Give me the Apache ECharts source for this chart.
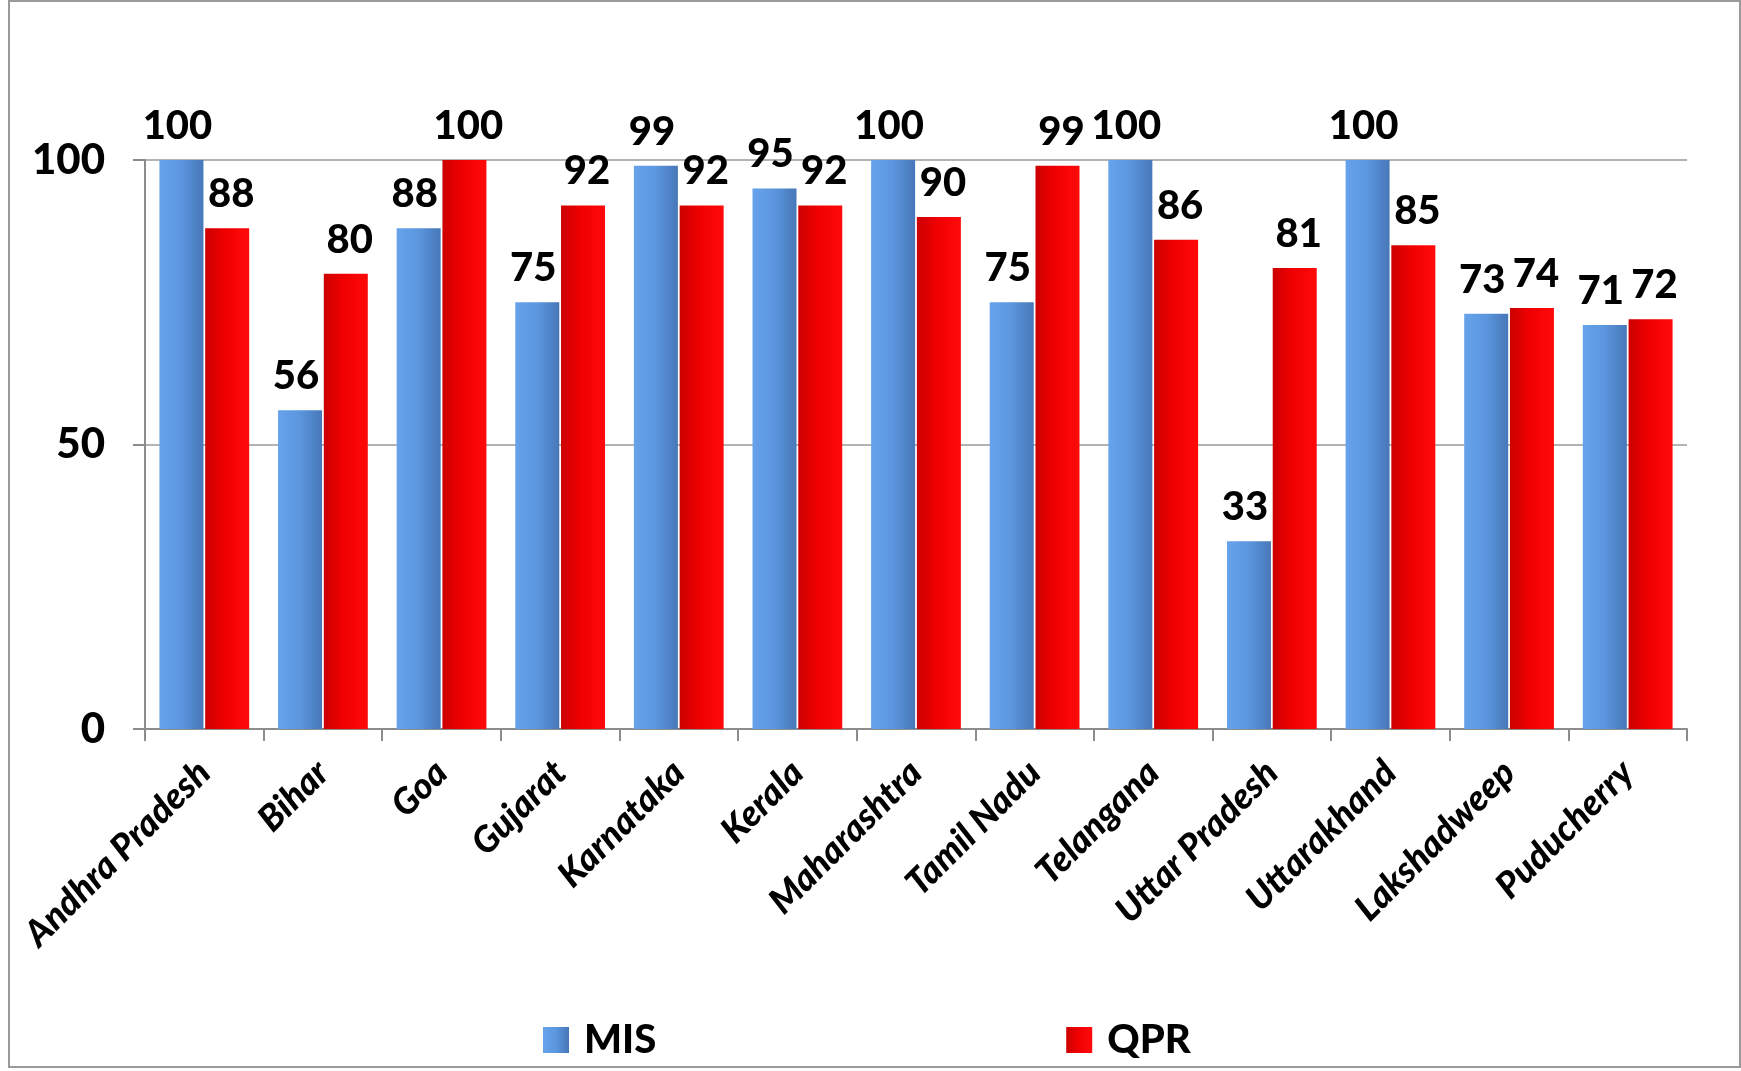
<!DOCTYPE html>
<html>
<head>
<meta charset="utf-8">
<script src="https://cdn.jsdelivr.net/npm/echarts@6/dist/echarts.min.js"></script>
<style>
  html, body { margin: 0; padding: 0; background: #fff; }
  #chart { width: 1741px; height: 1071px; }
</style>
</head>
<body>
<div id="chart"></div>
<script>
const states = ['Andhra Pradesh', 'Bihar', 'Goa', 'Gujarat', 'Karnataka', 'Kerala',
  'Maharashtra', 'Tamil Nadu', 'Telangana', 'Uttar Pradesh', 'Uttarakhand',
  'Lakshadweep', 'Puducherry'];
const misValues = [100, 56, 88, 75, 99, 95, 100, 75, 100, 33, 100, 73, 71];
const qprValues = [88, 80, 100, 92, 92, 92, 90, 99, 86, 81, 85, 74, 72];
const yTicks = [0, 50, 100];

const chart = echarts.init(document.getElementById('chart'));

const blueFill = new echarts.graphic.LinearGradient(0, 0, 1, 0, [
  { offset: 0, color: '#66a3ea' },
  { offset: 0.5, color: '#5b96de' },
  { offset: 1, color: '#4777b8' }
]);
const redFill = new echarts.graphic.LinearGradient(0, 0, 1, 0, [
  { offset: 0, color: '#cc0000' },
  { offset: 0.45, color: '#f00000' },
  { offset: 1, color: '#ff0a0a' }
]);

function barLabel(dx) {
  return {
    show: true,
    position: 'top',
    distance: 14,
    offset: [dx, 0],
    color: '#000',
    fontFamily: 'Lato',
    fontWeight: 900,
    fontSize: 40
  };
}

const option = {
  backgroundColor: '#fff',
  animation: false,
  graphic: [{
    type: 'rect',
    shape: { x: 9, y: 1, width: 1731, height: 1066 },
    style: { fill: 'none', stroke: '#9a9a9a', lineWidth: 2 }
  }],
  legend: {
    bottom: 6,
    left: 538,
    itemGap: 410,
    itemWidth: 26,
    itemHeight: 26,
    icon: 'rect',
    textStyle: {
      fontFamily: 'Lato', fontWeight: 900, fontSize: 40, color: '#000',
      padding: [0, 0, 0, 10]
    },
    data: ['MIS', 'QPR']
  },
  grid: { left: 145, right: 54, top: 160, bottom: 342 },
  xAxis: {
    type: 'category',
    data: states,
    axisLine: { lineStyle: { color: '#8c8c8c', width: 2 } },
    axisTick: { show: true, length: 12, lineStyle: { color: '#8c8c8c', width: 2 } },
    axisLabel: {
      rotate: 45,
      margin: 38,
      interval: 0,
      color: '#000',
      fontFamily: 'Lato',
      fontWeight: 900,
      fontStyle: 'italic',
      fontSize: 36
    }
  },
  yAxis: {
    type: 'value',
    min: yTicks[0],
    max: yTicks[yTicks.length - 1],
    interval: 50,
    axisLine: { show: true, lineStyle: { color: '#8c8c8c', width: 2 } },
    axisTick: { show: true, length: 12, lineStyle: { color: '#8c8c8c', width: 2 } },
    splitLine: { lineStyle: { color: '#9a9a9a', width: 1.5 } },
    axisLabel: {
      margin: 40,
      color: '#000',
      fontFamily: 'Lato',
      fontWeight: 900,
      fontSize: 42
    }
  },
  series: [{
    name: 'MIS',
    type: 'bar',
    data: misValues,
    barWidth: 44,
    barGap: '4%',
    itemStyle: { color: blueFill },
    label: barLabel(-4)
  }, {
    name: 'QPR',
    type: 'bar',
    data: qprValues,
    barWidth: 44,
    itemStyle: { color: redFill },
    label: barLabel(4)
  }]
};

chart.setOption(option);
</script>
</body>
</html>
